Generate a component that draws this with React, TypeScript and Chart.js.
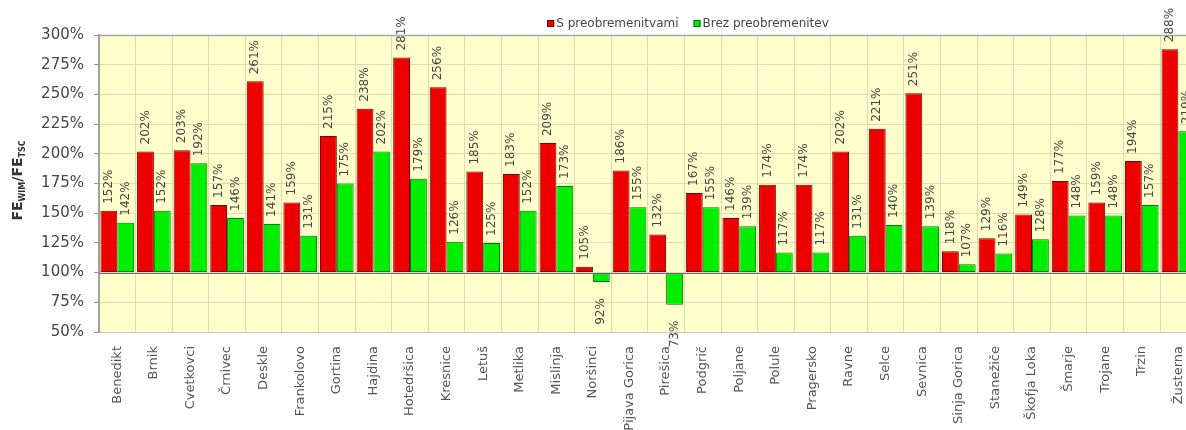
import { useEffect, useRef } from "react";
import { Chart, registerables } from "chart.js";

Chart.register(...registerables);

// Measuring stations
const categories = [
  "Benedikt", "Brnik", "Cvetkovci", "Črnivec", "Deskle", "Frankolovo", "Gortina",
  "Hajdina", "Hotedršica", "Kresnice", "Letuš", "Metlika", "Mislinja", "Noršinci",
  "Pijava Gorica", "Pirešica", "Podgrič", "Poljane", "Polule", "Pragersko", "Ravne",
  "Selce", "Sevnica", "Sinja Gorica", "Stanežiče", "Škofja Loka", "Šmarje", "Trojane",
  "Trzin", "Žusterna",
];

// FE_WIM / FE_TSC ratio in percent
const withOverload = [
  152, 202, 203, 157, 261, 159, 215, 238, 281, 256, 185, 183, 209, 105, 186,
  132, 167, 146, 174, 174, 202, 221, 251, 118, 129, 149, 177, 159, 194, 288,
];
const withoutOverload = [
  142, 152, 192, 146, 141, 131, 175, 202, 179, 126, 125, 152, 173, 92, 155,
  73, 155, 139, 117, 117, 131, 140, 139, 107, 116, 128, 148, 148, 157, 219,
];

const seriesNames = ["S preobremenitvami", "Brez preobremenitev"];

const yMin = 50;
const yMax = 300;
const yStep = 25;
const baseValue = 100;

const FONT = "'DejaVu Sans', Verdana, sans-serif";
const CANVAS_W = 1208;
const CANVAS_H = 430;

const plotBackground = {
  id: "plotBackground",
  beforeDraw(chart: any) {
    const { ctx, chartArea } = chart;
    ctx.save();
    ctx.fillStyle = "#ffffcc";
    ctx.fillRect(chartArea.left, chartArea.top, chartArea.right - chartArea.left, chartArea.bottom - chartArea.top);
    ctx.restore();
  },
  afterDatasetsDraw(chart: any) {
    const { ctx, chartArea, scales } = chart;
    ctx.save();
    // plot frame top
    ctx.strokeStyle = "#a8a8a8";
    ctx.lineWidth = 1.5;
    ctx.beginPath();
    ctx.moveTo(chartArea.left, chartArea.top + 0.5);
    ctx.lineTo(chartArea.right, chartArea.top + 0.5);
    ctx.stroke();
    // category axis crossing at 100 %
    const y = Math.round(scales.y.getPixelForValue(baseValue)) + 0.5;
    ctx.strokeStyle = "#6a6a7a";
    ctx.lineWidth = 1;
    ctx.beginPath();
    ctx.moveTo(chartArea.left, y);
    ctx.lineTo(chartArea.right, y);
    ctx.stroke();
    ctx.restore();
  },
};

const valueLabels = {
  id: "valueLabels",
  afterDraw(chart: any) {
    const { ctx } = chart;
    ctx.save();
    ctx.font = `12px ${FONT}`;
    ctx.fillStyle = "#454545";
    ctx.textBaseline = "middle";
    chart.data.datasets.forEach((ds: any, di: number) => {
      const meta = chart.getDatasetMeta(di);
      meta.data.forEach((bar: any, i: number) => {
        const v = ds.data[i] as number;
        const text = `${v}%`;
        ctx.save();
        if (v >= baseValue) {
          ctx.translate(bar.x, bar.y - 7);
          ctx.rotate(-Math.PI / 2);
          ctx.textAlign = "left";
        } else {
          ctx.translate(bar.x, bar.y + 16);
          ctx.rotate(-Math.PI / 2);
          ctx.textAlign = "right";
        }
        ctx.fillText(text, 0, 0);
        ctx.restore();
      });
    });
    ctx.restore();
  },
};

const customLegend = {
  id: "customLegend",
  afterDraw(chart: any) {
    const { ctx } = chart;
    const colors = ["#ee0000", "#00ee00"];
    const borders = ["#7a0000", "#007a00"];
    ctx.save();
    ctx.font = `12px ${FONT}`;
    const box = 7;
    const gap = 2;
    const spacing = 15;
    const widths = seriesNames.map((n) => ctx.measureText(n).width);
    const total = widths.reduce((a, w) => a + box + gap + w, 0) + spacing;
    const cx = 688;
    const cy = 23.5;
    let x = cx - total / 2;
    seriesNames.forEach((name, i) => {
      ctx.fillStyle = colors[i];
      ctx.fillRect(x, cy - box / 2, box, box);
      ctx.strokeStyle = borders[i];
      ctx.lineWidth = 1;
      ctx.strokeRect(x + 0.5, cy - box / 2 + 0.5, box - 1, box - 1);
      x += box + gap;
      ctx.fillStyle = "#454545";
      ctx.textBaseline = "middle";
      ctx.textAlign = "left";
      ctx.fillText(name, x, cy);
      x += widths[i] + spacing;
    });
    ctx.restore();
  },
};

const yAxisTitle = {
  id: "yAxisTitle",
  afterDraw(chart: any) {
    const { ctx, chartArea } = chart;
    const parts: [string, boolean][] = [["FE", false], ["WIM", true], ["/FE", false], ["TSC", true]];
    const mainFont = `bold 14px ${FONT}`;
    const subFont = `bold 8px ${FONT}`;
    ctx.save();
    let total = 0;
    const ws = parts.map(([t, sub]) => {
      ctx.font = sub ? subFont : mainFont;
      const w = ctx.measureText(t).width;
      total += w;
      return w;
    });
    const cy = (chartArea.top + chartArea.bottom) / 2 - 3;
    ctx.translate(22, cy);
    ctx.rotate(-Math.PI / 2);
    ctx.fillStyle = "#333333";
    ctx.textAlign = "left";
    ctx.textBaseline = "alphabetic";
    let x = -total / 2;
    parts.forEach(([t, sub], i) => {
      ctx.font = sub ? subFont : mainFont;
      ctx.fillText(t, x, sub ? 3 : 0);
      x += ws[i];
    });
    ctx.restore();
  },
};

export default function App() {
  const canvasRef = useRef<HTMLCanvasElement | null>(null);

  useEffect(() => {
    const canvas = canvasRef.current;
    if (!canvas) return;
    const chart = new Chart(canvas, {
      type: "bar",
      data: {
        labels: categories,
        datasets: [
          {
            label: seriesNames[0],
            data: withOverload,
            base: baseValue,
            backgroundColor: "#ee0000",
            borderColor: "#7a0000",
            borderWidth: 1,
            borderSkipped: false,
            categoryPercentage: 0.92,
            barPercentage: 1.0,
          },
          {
            label: seriesNames[1],
            data: withoutOverload,
            base: baseValue,
            backgroundColor: "#00ee00",
            borderColor: "#007a00",
            borderWidth: 1,
            borderSkipped: false,
            categoryPercentage: 0.92,
            barPercentage: 1.0,
          },
        ],
      },
      options: {
        responsive: false,
        animation: false,
        devicePixelRatio: 1,
        layout: { padding: { top: 35, right: 2, left: 0, bottom: 0 } },
        plugins: {
          legend: { display: false },
          tooltip: { enabled: false },
        },
        scales: {
          x: {
            offset: true,
            grid: { color: "#dcdcb4", offset: true, drawTicks: false, lineWidth: 1 },
            border: { color: "#c4c4c4", width: 1 },
            ticks: {
              autoSkip: false,
              minRotation: 90,
              maxRotation: 90,
              padding: 14,
              color: "#555555",
              font: { family: FONT, size: 13 },
            },
            afterFit(scale: any) {
              scale.height = 98;
            },
          },
          y: {
            min: yMin,
            max: yMax,
            grid: { color: "#dcdcb4", tickColor: "#909090", tickLength: 5, lineWidth: 1 },
            border: { color: "#a0a0a0", width: 2 },
            ticks: {
              stepSize: yStep,
              padding: 10,
              color: "#454545",
              font: { family: FONT, size: 15 },
              callback: (v: any) => `${v}%`,
            },
            afterFit(scale: any) {
              scale.width = 99;
            },
          },
        },
      },
      plugins: [plotBackground, valueLabels, customLegend, yAxisTitle],
    });
    return () => chart.destroy();
  }, []);

  return (
    <div style={{ position: "fixed", left: 0, top: 0, width: 1186, height: CANVAS_H, overflow: "hidden", background: "#ffffff" }}>
      <canvas
        ref={canvasRef}
        width={CANVAS_W}
        height={CANVAS_H}
        style={{ display: "block", width: CANVAS_W, height: CANVAS_H }}
      />
    </div>
  );
}
